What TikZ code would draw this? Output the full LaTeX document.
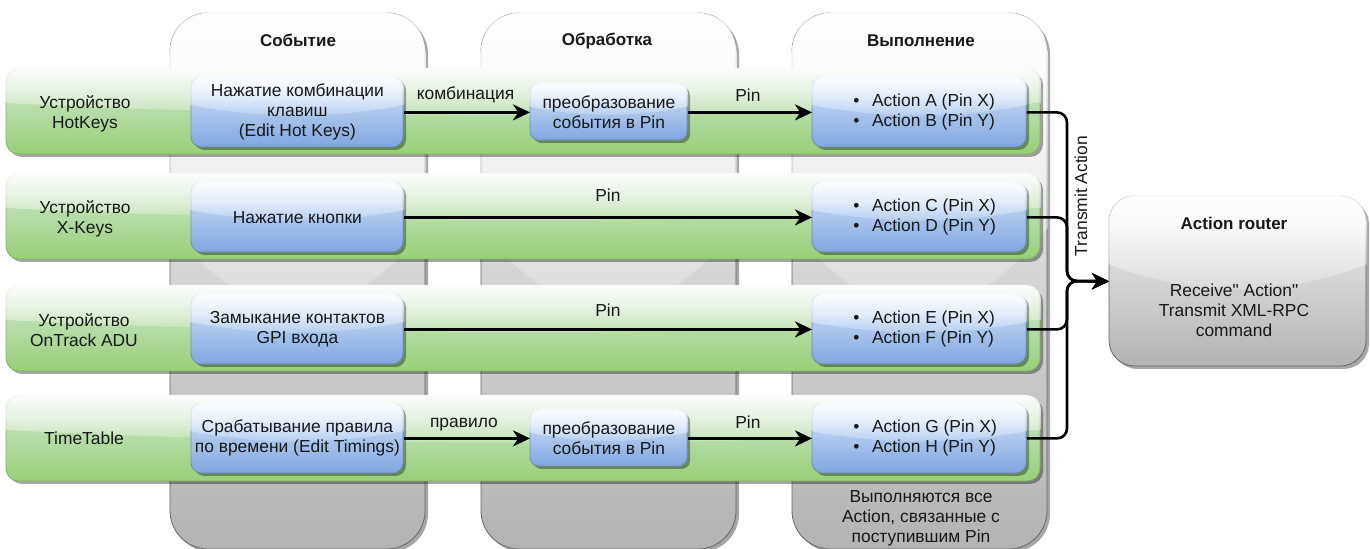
\documentclass[tikz,border=0pt]{standalone}
\usepackage{fontspec}
\setmainfont{Liberation Sans}
\newfontfamily\plainq{Liberation Sans}
\usetikzlibrary{arrows.meta,fadings,calc}
\tikzfading[name=glassfade, top color=transparent!8, bottom color=transparent!90]
\definecolor{greyT}{HTML}{F5F5F5}\definecolor{greyB}{HTML}{B3B3B3}\definecolor{greyL}{HTML}{666666}
\definecolor{greenT}{HTML}{D5E8D4}\definecolor{greenB}{HTML}{97D077}\definecolor{greenL}{HTML}{82B366}
\definecolor{blueT}{HTML}{DAE8FC}\definecolor{blueB}{HTML}{7EA6E0}\definecolor{blueL}{HTML}{6C8EBF}
\tikzset{
  x=0.5pt,y=-0.5pt,
  every node/.style={font=\fontsize{8.7}{10}\selectfont,align=center,inner sep=0pt,text=black!90},
  greybox/.style={top color=greyT,bottom color=greyB,draw=greyL},
  greenbox/.style={top color=greenT,bottom color=greenB,draw=greenL},
  bluebox/.style={top color=blueT,bottom color=blueB,draw=blueL},
  conn/.style={line width=1.3pt,black,-{Stealth[length=8.5pt,width=8pt,inset=2.6pt]}},
  bus/.style={conn,rounded corners=5pt},
  head/.style={font=\fontsize{8.5}{10}\selectfont\bfseries},
}
% name, x, y, w, h, box style, text
\newcommand{\glassbox}[7]{%
  \pgfmathsetmacro{\gx}{#2}\pgfmathsetmacro{\gy}{#3}\pgfmathsetmacro{\gw}{#4}\pgfmathsetmacro{\gh}{#5}%
  \pgfmathsetmacro{\gr}{0.15*min(\gw,\gh)}\pgfmathsetmacro{\gR}{\gx+\gw}\pgfmathsetmacro{\gB}{\gy+\gh}%
  \pgfmathsetmacro{\gA}{1.2*\gr}\pgfmathsetmacro{\gS}{\gy+0.4*\gh}\pgfmathsetmacro{\gC}{\gy+0.6*\gh}%
  \fill[black,opacity=.35,rounded corners=\gr*0.5pt] (\gx+3,\gy+3) rectangle (\gR+3,\gB+3);%
  \path[#6,line width=.4pt,rounded corners=\gr*0.5pt] (\gx,\gy) rectangle (\gR,\gB);%
  \fill[white,path fading=glassfade]
    (\gx-1,\gy+\gA) .. controls (\gx-1,\gy+\gA/3) and (\gx+\gA/3,\gy-1) .. (\gx+\gA,\gy-1)
    -- (\gR-\gA,\gy-1) .. controls (\gR-\gA/3,\gy-1) and (\gR+1,\gy+\gA/3) .. (\gR+1,\gy+\gA)
    -- (\gR+1,\gS) .. controls (\gx+2*\gw/3,\gC) and (\gx+\gw/3,\gC) .. (\gx-1,\gS) -- cycle;%
  \node[minimum width=\gw*0.5pt,minimum height=\gh*0.5pt,anchor=north west] (#1) at (\gx,\gy) {#7};%
}
\newcommand{\act}[2]{\parbox{107pt}{\raggedright\hspace*{20.5pt}•\hspace*{6.3pt}Action #1 (Pin X)\\\hspace*{20.5pt}•\hspace*{6.3pt}Action #2 (Pin Y)}}
\begin{document}
\begin{tikzpicture}
\useasboundingbox (0,0) rectangle (1370,549);
\fill[white] (0,0) rectangle (1370,549);
% columns
\glassbox{col1}{170}{13}{255}{536}{greybox}{}
\glassbox{col2}{481}{13}{255}{536}{greybox}{}
\glassbox{col3}{792}{13}{255}{536}{greybox}{}
\node[head] (h1) at (298,40) {Событие};
\node[head] (h2) at (607,41.5) {Обработка};
\node[head] (h3) at (921,41) {Выполнение};
\node (note) at (921,518) {Выполняются все\\Action, связанные с\\поступившим Pin};
% lanes
\glassbox{lane1}{6}{69}{1034}{85}{greenbox}{}
\glassbox{lane2}{6}{174}{1034}{85}{greenbox}{}
\glassbox{lane3}{6}{286}{1034}{85}{greenbox}{}
\glassbox{lane4}{6}{396}{1034}{85}{greenbox}{}
\node (d1) at (85,113.5) {Устройство\\HotKeys};
\node (d2) at (85,219) {Устройство\\X-Keys};
\node (d3) at (84,330) {Устройство\\OnTrack ADU};
\node (d4) at (84,438) {TimeTable};
% event boxes
\glassbox{e1}{191}{77}{212}{70}{bluebox}{Нажатие комбинации\\клавиш\\(Edit Hot Keys)}
\glassbox{e2}{191}{182}{212}{70}{bluebox}{Нажатие кнопки}
\glassbox{e3}{191}{294}{212}{70}{bluebox}{Замыкание контактов\\GPI входа}
\glassbox{e4}{191}{403}{212}{70}{bluebox}{Срабатывание правила\\по времени (Edit Timings)}
% process boxes
\glassbox{p1}{530}{84}{157}{56}{bluebox}{преобразование\\события в Pin}
\glassbox{p4}{530}{410}{157}{56}{bluebox}{преобразование\\события в Pin}
% action boxes
\glassbox{a1}{812}{77}{214}{70}{bluebox}{\act{A}{B}}
\glassbox{a2}{812}{182}{214}{70}{bluebox}{\act{C}{D}}
\glassbox{a3}{812}{294}{214}{70}{bluebox}{\act{E}{F}}
\glassbox{a4}{812}{403}{214}{70}{bluebox}{\act{G}{H}}
% router
\glassbox{router}{1109}{196}{257}{170}{greybox}{}
\node[head] (rt) at (1234,223) {Action router};
\node (rb) at (1234,310.5) {{\plainq Receive" Action"}\\Transmit XML-RPC\\command};
% connectors
\draw[conn] (e1.east) -- node[midway,yshift=9pt,xshift=-.7pt] {комбинация} (p1.west);
\draw[conn] (p1.east) -- node[midway,yshift=8.5pt,xshift=-1pt] {Pin} (a1.west);
\draw[conn] (e2.east) -- node[midway,yshift=11.3pt] {Pin} (a2.west);
\draw[conn] (e3.east) -- node[midway,yshift=9.5pt] {Pin} (a3.west);
\draw[conn] (e4.east) -- node[midway,yshift=7pt,xshift=-1.5pt] {правило} (p4.west);
\draw[conn] (p4.east) -- node[midway,yshift=8pt,xshift=-1pt] {Pin} (a4.west);
\coordinate (junction) at (1067,281);
\draw[bus] (a1.east) -| (junction) -- (router.west);
\draw[bus] (a2.east) -| (junction) -- (router.west);
\draw[bus] (a3.east) -| (junction) -- (router.west);
\draw[bus] (a4.east) -| (junction) -- (router.west);
\node[rotate=90] (ta) at (1081,196) {Transmit Action};
\end{tikzpicture}
\end{document}
